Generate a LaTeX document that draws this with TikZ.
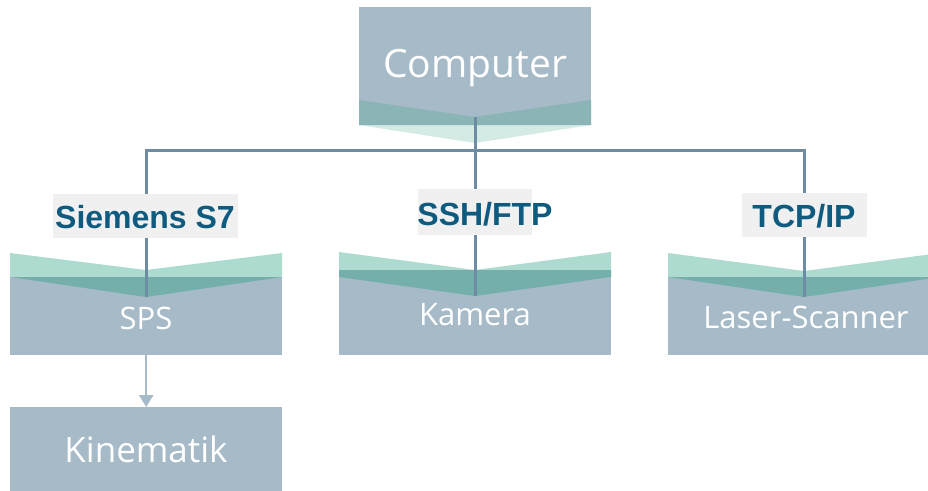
\documentclass[tikz,border=0pt]{standalone}
\usepackage{fontspec}
\setmainfont{Open Sans}
\newfontfamily\labelfont{Liberation Sans}
\usetikzlibrary{arrows.meta}
\definecolor{boxgray}{HTML}{A6BAC7}
\definecolor{mintA}{HTML}{D3EBE4}
\definecolor{tealA}{HTML}{8BB4B7}
\definecolor{mintB}{HTML}{AEDBCF}
\definecolor{tealB}{HTML}{74AFAC}
\definecolor{connblue}{HTML}{6E8CA3}
\definecolor{labelbg}{HTML}{F0F0F0}
\definecolor{labeltext}{HTML}{0E5B7F}
\tikzset{
  x=1pt, y=-1pt,
  box/.style={fill=boxgray, draw=none, inner sep=0pt, anchor=north west},
  boxtext/.style={text=white, anchor=base, inner sep=0pt, font=\fontsize{31}{31}\selectfont},
  conn/.style={draw=connblue, line width=3pt},
  lblbg/.style={fill=labelbg, draw=none, inner sep=0pt, anchor=north west},
  lbltext/.style={text=labeltext, anchor=base, inner sep=0pt, font=\labelfont\bfseries\fontsize{32}{32}\selectfont},
  flow/.style={draw=boxgray, line width=2.5pt, -{Triangle[length=12pt,width=14pt]}},
}
\begin{document}
\begin{tikzpicture}
\clip (0,0) rectangle (928,490);
\fill[white] (0,0) rectangle (928,490);

% --- Computer: box with a downward chevron band
\fill[mintA] (359,100) -- (475,117) -- (591,100) -- (591,125) -- (475,143) -- (359,125) -- cycle;
\node[box, minimum width=232pt, minimum height=118pt] (comp) at (359,7) {};
\fill[tealA] (359,100) -- (475,117) -- (591,100) -- (591,125) -- (359,125) -- cycle;
\node[boxtext, font=\fontsize{39}{39}\selectfont] (comptext) at (475,77) {Computer};
\coordinate (ctip) at (475,117);

% --- SPS
\fill[mintB] (10,253) -- (146,270) -- (282,253) -- (282,277) -- (146,297) -- (10,277) -- cycle;
\node[box, minimum width=272pt, minimum height=78pt] (sps) at (10,277) {};
\fill[tealB] (10,277) -- (282,277) -- (146,297) -- cycle;
\node[boxtext] (spstext) at (146,329) {SPS};
\coordinate (spstip) at (146,297);

% --- Kamera
\fill[mintB] (339,252) -- (475,270) -- (611,252) -- (611,277) -- (475,296) -- (339,277) -- cycle;
\node[box, minimum width=272pt, minimum height=85pt] (kam) at (339,270) {};
\fill[tealB] (339,270) -- (611,270) -- (611,277) -- (475,296) -- (339,277) -- cycle;
\node[boxtext] (kamtext) at (475,325) {Kamera};
\coordinate (kamtip) at (475,296);

% --- Laser-Scanner
\fill[mintB] (668,253) -- (804,271) -- (940,253) -- (940,277) -- (804,297) -- (668,277) -- cycle;
\node[box, minimum width=272pt, minimum height=78pt] (las) at (668,277) {};
\fill[tealB] (668,277) -- (940,277) -- (804,297) -- cycle;
\node[boxtext] (lastext) at (806,328) {Laser-Scanner};
\coordinate (lastip) at (804,297);

% --- Kinematik
\node[box, minimum width=272pt, minimum height=90pt] (kin) at (10,407) {};
\node[boxtext, font=\fontsize{35}{35}\selectfont] (kintext) at (146,462) {Kinematik};

% --- bus connectors
\coordinate (bus) at (475,150);
\draw[conn] (ctip) -- (bus);
\draw[conn] (spstip) |- (bus);
\draw[conn] (kamtip) -- (bus);
\draw[conn] (lastip) |- (bus);

% --- protocol labels
\node[lblbg, minimum width=185pt, minimum height=44pt] (s7bg) at (53,194) {};
\node[lbltext] (s7) at (145,228) {Siemens S7};
\node[lblbg, minimum width=114pt, minimum height=46pt] (sshbg) at (418,189) {};
\node[lbltext] (ssh) at (485,225) {SSH/FTP};
\node[lblbg, minimum width=125pt, minimum height=44pt] (tcpbg) at (742,193) {};
\node[lbltext] (tcp) at (804,227) {TCP/IP};

% --- SPS drives the kinematics
\draw[flow] (sps.south) -- (kin.north);
\end{tikzpicture}
\end{document}
